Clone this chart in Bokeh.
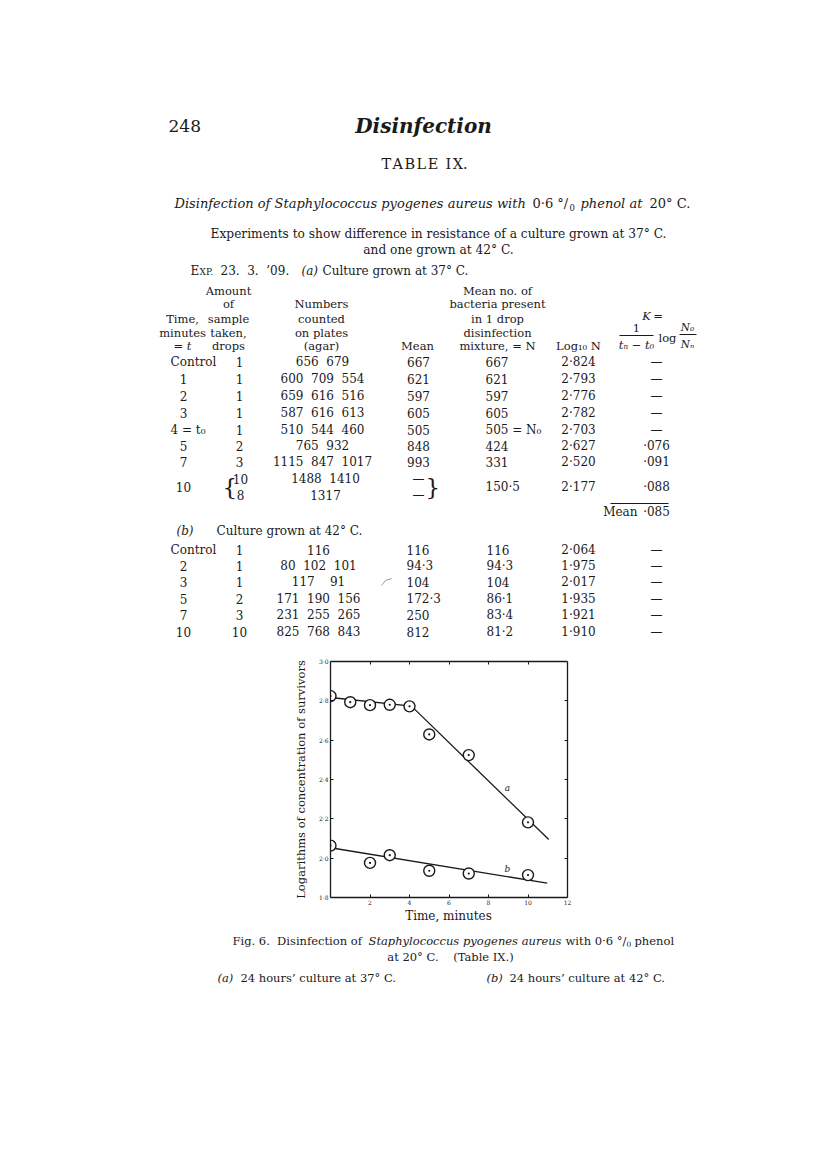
from bokeh.plotting import figure
from bokeh.models import Range1d, LinearAxis, FixedTicker, CustomJSTickFormatter, Spacer
from bokeh.layouts import column, row
from bokeh.core.properties import value
from bokeh.embed import file_html
from bokeh.resources import INLINE

S = "\u00a0\u00a0"  # visible double space (SVG collapses normal spaces)

# ---------------- data ----------------
# Table IX (a): culture grown at 37 C
a_time = ["1", "2", "3", "5", "7"]
a_drops = ["1", "1", "1", "1", "1", "2", "3"]
a_counts = ["656" + S + "679", "600" + S + "709" + S + "554", "659" + S + "616" + S + "516",
            "587" + S + "616" + S + "613", "510" + S + "544" + S + "460", "765" + S + "932",
            "1115" + S + "847" + S + "1017"]
a_counts10 = ["1488" + S + "1410", "1317"]
a_mean = ["667", "621", "597", "605", "505", "848", "993"]
a_N = ["667", "621", "597", "605", "505\u00a0=\u00a0N\u2080", "424", "331", "150\u00b75"]
a_log = ["2\u00b7824", "2\u00b7793", "2\u00b7776", "2\u00b7782", "2\u00b7703",
         "2\u00b7627", "2\u00b7520", "2\u00b7177"]
a_K = ["\u2014", "\u2014", "\u2014", "\u2014", "\u2014", "\u00b7076", "\u00b7091", "\u00b7088"]
a_K_mean = "\u00b7085"

# Table IX (b): culture grown at 42 C
b_time = ["2", "3", "5", "7", "10"]
b_drops = ["1", "1", "1", "2", "3", "10"]
b_counts = ["116", "80" + S + "102" + S + "101", "117" + S + S + "91",
            "171" + S + "190" + S + "156", "231" + S + "255" + S + "265",
            "825" + S + "768" + S + "843"]
b_mean = ["116", "94\u00b73", "104", "172\u00b73", "250", "812"]
b_N = ["116", "94\u00b73", "104", "86\u00b71", "83\u00b74", "81\u00b72"]
b_log = ["2\u00b7064", "1\u00b7975", "2\u00b7017", "1\u00b7935", "1\u00b7921", "1\u00b7910"]
b_K = ["\u2014"] * 6

# Fig. 6 plotted points
chart_t_a = [0, 1, 2, 3, 4, 5, 7, 10]
chart_log_a = [2.824, 2.793, 2.778, 2.780, 2.772, 2.629, 2.524, 2.182]
chart_t_b = [0, 2, 3, 5, 7, 10]
chart_log_b = [2.064, 1.976, 2.015, 1.936, 1.922, 1.914]
# fitted lines drawn in the figure
fit_t_a = [0, 4.1, 11.05]
fit_log_a = [2.817, 2.773, 2.095]
fit_t_b = [0, 10.97]
fit_log_b = [2.053, 1.873]
x_ticks = [2, 4, 6, 8, 10, 12]
y_ticks = [1.8, 2.0, 2.2, 2.4, 2.6, 2.8, 3.0]

INK = "#1a1a1a"
SERIF = "DejaVu Serif"
BODY = "12px"
HEAD = "11.5px"
W = 812


def txt(p, xs, ys, texts, size=BODY, style="normal", align="center",
        baseline="middle", font=SERIF):
    p.text(x=xs, y=ys, text=texts, text_font=value(font), text_font_size=size,
           text_font_style=style, text_align=align, text_baseline=baseline,
           text_color=INK)


def blank(h, y0):
    p = figure(width=W, height=h, x_range=Range1d(0, W), y_range=Range1d(y0 + h, y0),
               x_axis_type=None, y_axis_type=None, output_backend="svg",
               toolbar_location=None, min_border=0)
    p.outline_line_color = None
    p.grid.visible = False
    return p


# ---------------- page top: heading and table ----------------
top = blank(655, 0)
txt(top, [168], [125], ["248"], size="17px", align="left")
txt(top, [423], [125], ["Disinfection"], size="20px", style="bold italic")
txt(top, [424], [163], ["T\u200aA\u200aB\u200aL\u200aE\u2002I\u200aX."], size="14.5px")

txt(top, [174], [203], ["Disinfection of Staphylococcus pyogenes aureus with"],
    size="13px", style="italic", align="left")
txt(top, [532], [203], ["0\u00b76 \u00b0/"], size="13px", align="left")
txt(top, [569], [207], ["0"], size="8.5px", align="left")
txt(top, [580], [203], ["phenol at"], size="13px", style="italic", align="left")
txt(top, [649], [203], ["20\u00b0 C."], size="13px", align="left")

txt(top, [438, 438], [233, 249],
    ["Experiments to show difference in resistance of a culture grown at 37\u00b0 C.",
     "and one grown at 42\u00b0 C."], size="12.2px")

# experiment line
txt(top, [190], [270], ["E"], size=BODY, align="left")
txt(top, [199], [271], ["XP."], size="9px", align="left")
txt(top, [220], [270], ["23." + S + "3." + S + "\u201909."], size=BODY, align="left")
txt(top, [301], [270], ["(a)"], size=BODY, style="italic", align="left")
txt(top, [322], [270], ["Culture grown at 37\u00b0 C."], size=BODY, align="left")

# column headers
hy = [290, 303, 318, 332, 345]
txt(top, [228] * 5, hy, ["Amount", "of", "sample", "taken,", "drops"], size=HEAD)
txt(top, [182, 182], [318, 332], ["Time,", "minutes"], size=HEAD)
txt(top, [182], [345], ["= t"], size=HEAD, style="italic")
txt(top, [321] * 4, hy[1:], ["Numbers", "counted", "on plates", "(agar)"], size=HEAD)
txt(top, [417], [345], ["Mean"], size=HEAD)
txt(top, [497] * 4, hy[:4], ["Mean no. of", "bacteria present", "in 1 drop", "disinfection"], size=HEAD)
txt(top, [497], [345], ["mixture, = N"], size=HEAD)
txt(top, [578], [345], ["Log\u2081\u2080 N"], size=HEAD)
txt(top, [652], [315], ["K\u2009="], size=HEAD, style="italic")
txt(top, [636], [327], ["1"], size=HEAD)
top.line(x=[619, 653], y=[335, 335], line_color=INK, line_width=1)
txt(top, [636], [344], ["t\u2099 \u2212 t\u2080"], size=HEAD, style="italic")
txt(top, [667], [337], ["log"], size=HEAD)
txt(top, [687], [326], ["N\u2080"], size="10.5px", style="italic")
top.line(x=[679, 696], y=[334, 334], line_color=INK, line_width=1)
txt(top, [687], [343], ["N\u2099"], size="10.5px", style="italic")

# table (a) rows
ya = [361, 378, 395, 412, 429, 445, 461]
txt(top, [170], [ya[0]], ["Control"], align="left")
txt(top, [183] * 3, ya[1:4], a_time[:3])
txt(top, [170], [ya[4]], ["4\u00a0=\u00a0t\u2080"], align="left")
txt(top, [183] * 2, ya[5:7], a_time[3:])
txt(top, [239] * 7, ya, a_drops)
txt(top, [322] * 7, ya, a_counts)
txt(top, [418] * 7, ya, a_mean)
y10 = 486
txt(top, [485] * 8, ya + [y10], a_N, align="left")
txt(top, [578] * 8, ya + [y10], a_log)
txt(top, [656] * 8, ya + [y10], a_K)
# row 10 with braces
txt(top, [183], [y10], ["10"])
txt(top, [222], [y10], ["{"], size="23px", align="left")
txt(top, [240, 240], [478, 494], ["10", "8"])
txt(top, [325, 325], [478, 494], a_counts10)
txt(top, [418, 418], [478, 494], ["\u2014", "\u2014"])
txt(top, [425], [y10], ["}"], size="23px", align="left")
top.line(x=[610, 668], y=[503, 503], line_color=INK, line_width=1)
txt(top, [637], [511], ["Mean"], align="right")
txt(top, [656], [511], [a_K_mean])

# table (b)
txt(top, [176], [530], ["(b)"], style="italic", align="left")
txt(top, [216], [530], ["Culture grown at 42\u00b0 C."], align="left")
yb = [549, 565, 581, 598, 614, 631]
txt(top, [170], [yb[0]], ["Control"], align="left")
txt(top, [183] * 5, yb[1:], b_time)
txt(top, [239] * 6, yb, b_drops)
txt(top, [318] * 6, yb, b_counts)
txt(top, [406] * 6, yb, b_mean, align="left")
txt(top, [486] * 6, yb, b_N, align="left")
txt(top, [578] * 6, yb, b_log)
txt(top, [656] * 6, yb, b_K)
# small pencil mark on the scan
top.line(x=[381, 385, 391], y=[585, 580, 578], line_color="#9a9a9a", line_width=1)

# ---------------- chart ----------------
ch = figure(frame_width=237, frame_height=236, x_range=Range1d(0, 12),
            y_range=Range1d(1.8, 3.0), x_axis_type=None, y_axis_type=None,
            output_backend="svg", toolbar_location=None,
            min_border_left=40, min_border_top=6, min_border_right=10,
            min_border_bottom=10)
ch.outline_line_color = None
fmt = CustomJSTickFormatter(code="return tick.toFixed(1).replace('.', '\u00b7');")


def style_axis(ax, labels=True):
    ax.axis_line_color = INK
    ax.axis_line_width = 1.3
    ax.major_tick_line_color = INK
    ax.major_tick_in = 3
    ax.major_tick_out = 0
    ax.minor_tick_line_color = None
    ax.major_label_standoff = 2
    ax.major_label_text_font = SERIF
    ax.major_label_text_font_size = "6px"
    ax.major_label_text_color = INK
    if not labels:
        ax.major_label_text_font_size = "1px"
        ax.major_label_text_alpha = 0
        ax.major_label_standoff = 0


left = LinearAxis(ticker=FixedTicker(ticks=y_ticks), formatter=fmt,
                  axis_label="Logarithms of concentration of survivors")
style_axis(left)
left.axis_label_text_font = SERIF
left.axis_label_text_font_size = "11.5px"
left.axis_label_text_font_style = "normal"
left.axis_label_text_color = INK
left.axis_label_standoff = 8
ch.add_layout(left, "left")
bottom = LinearAxis(ticker=FixedTicker(ticks=x_ticks))
style_axis(bottom)
ch.add_layout(bottom, "below")
above = LinearAxis(ticker=FixedTicker(ticks=x_ticks[:-1]))
style_axis(above, labels=False)
ch.add_layout(above, "above")
right = LinearAxis(ticker=FixedTicker(ticks=y_ticks[1:-1]))
style_axis(right, labels=False)
ch.add_layout(right, "right")

ch.line(fit_t_a, fit_log_a, line_color=INK, line_width=1.3)
ch.line(fit_t_b, fit_log_b, line_color=INK, line_width=1.3)
for tx, ly in ((chart_t_a, chart_log_a), (chart_t_b, chart_log_b)):
    ch.scatter(tx, ly, marker="circle", size=11, fill_color="white",
               line_color=INK, line_width=1.4)
    ch.scatter(tx, ly, marker="circle", size=2.2, fill_color=INK, line_color=None)
ch.text(x=[8.96, 8.96], y=[2.356, 1.945], text=["a", "b"], text_font=value(SERIF),
        text_font_size="9px", text_font_style="italic", text_align="center",
        text_baseline="middle", text_color=INK)

# ---------------- caption ----------------
bot = blank(1170 - 907, 907)
txt(bot, [448], [915], ["Time, minutes"], size="12px")
txt(bot, [232], [940], ["Fig. 6." + S + "Disinfection of"], size="11.5px", align="left")
txt(bot, [368], [940], ["Staphylococcus pyogenes aureus"], size="11.5px", style="italic", align="left")
txt(bot, [565], [940], ["with 0\u00b76 \u00b0/"], size="11.5px", align="left")
txt(bot, [626], [943], ["0"], size="7.5px", align="left")
txt(bot, [634], [940], ["phenol"], size="11.5px", align="left")
txt(bot, [450], [956], ["at 20\u00b0 C." + S + S + "(Table IX.)"], size="11.5px")
txt(bot, [217], [977], ["(a)"], size="11.5px", style="italic", align="left")
txt(bot, [240], [977], ["24 hours\u2019 culture at 37\u00b0 C."], size="11.5px", align="left")
txt(bot, [486], [977], ["(b)"], size="11.5px", style="italic", align="left")
txt(bot, [509], [977], ["24 hours\u2019 culture at 42\u00b0 C."], size="11.5px", align="left")

page = column(top, row(Spacer(width=290, height=10), ch), bot)
open("out.html", "w").write(file_html(page, INLINE))
